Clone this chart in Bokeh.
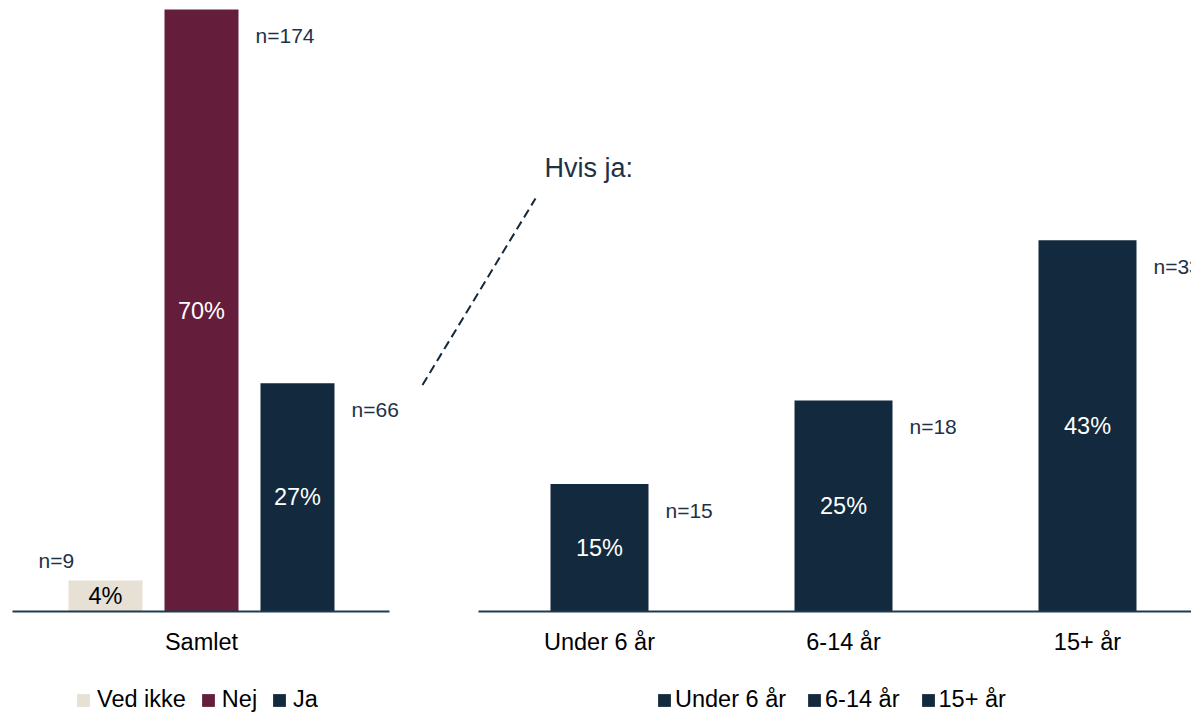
from bokeh.plotting import figure
from bokeh.models import ColumnDataSource, Range1d, FixedTicker, LinearAxis, Legend, LegendItem
from bokeh.layouts import row
from bokeh.embed import file_html
from bokeh.resources import INLINE
from bokeh.core.properties import value

# ---------------- data ----------------
left_category = "Samlet"
left_series = ["Ved ikke", "Nej", "Ja"]
left_values = [3.6, 69.9, 26.5]
left_n = [9, 174, 66]

right_title = "Hvis ja:"
right_categories = ["Under 6 år", "6-14 år", "15+ år"]
right_values = [14.8, 24.5, 43.1]
right_n = [15, 18, 33]

# ---------------- styles ----------------
FONT_NAME = "Liberation Sans"
FONT = value(FONT_NAME)
BEIGE, MAROON, NAVY = "#E6E0D5", "#641E3C", "#13293D"
LEFT_COLORS = [BEIGE, MAROON, NAVY]
TEXT_NAVY = "#1E3247"
AXIS_COLOR = "#1F3A52"
H = 712
Y_RANGE = (-11.73, 70.95)


def pct(v):
    return f"{int(v + 0.5)}%"


def make_fig(width, x0, x1):
    p = figure(width=width, height=H, x_range=Range1d(x0, x1), y_range=Range1d(*Y_RANGE),
               output_backend="svg", toolbar_location=None,
               x_axis_location=None, y_axis_location=None,
               min_border=0, min_border_left=0, min_border_right=0,
               min_border_top=0, min_border_bottom=0)
    p.outline_line_color = None
    p.background_fill_color = None
    p.border_fill_color = "white"
    for g in p.grid:
        g.visible = False
    return p


def add_axis(p, ticks, labels, bounds):
    ax = LinearAxis(ticker=FixedTicker(ticks=ticks),
                    major_label_overrides={t: l for t, l in zip(ticks, labels)},
                    fixed_location=0, bounds=bounds,
                    axis_line_color=AXIS_COLOR, axis_line_width=2,
                    major_tick_line_color=None, minor_tick_line_color=None,
                    major_label_text_font=FONT_NAME, major_label_text_font_size="23.5px",
                    major_label_text_color="black", major_label_standoff=12)
    p.add_layout(ax, "below")


# ---------------- left chart ----------------
LW = 0.771
p1 = make_fig(416, -1.09375, 3.2396)
lx = list(range(len(left_series)))
src1 = ColumnDataSource(dict(x=lx, top=left_values, color=LEFT_COLORS,
                             pct=[pct(v) for v in left_values],
                             pct_color=["black" if c == BEIGE else "white" for c in LEFT_COLORS],
                             mid=[v / 2 for v in left_values]))
r1 = p1.vbar(x="x", top="top", bottom=0, width=LW, fill_color="color", line_color=None, source=src1)
p1.text(x="x", y="mid", text="pct", text_color="pct_color", text_align="center",
        text_baseline="middle", text_font=FONT, text_font_size=value("23.5px"), source=src1)

big = [i for i, v in enumerate(left_values) if v >= 10]
small = [i for i, v in enumerate(left_values) if v < 10]
p1.text(x=[i + LW / 2 for i in big], y=[left_values[i] for i in big],
        text=[f"n={left_n[i]}" for i in big], x_offset=17, y_offset=26,
        text_align="left", text_baseline="middle", text_color=TEXT_NAVY,
        text_font=FONT, text_font_size=value("21px"))
p1.text(x=[i - LW / 2 for i in small], y=[left_values[i] for i in small],
        text=[f"n={left_n[i]}" for i in small], x_offset=-30, y_offset=-20,
        text_align="left", text_baseline="middle", text_color=TEXT_NAVY,
        text_font=FONT, text_font_size=value("21px"))
add_axis(p1, [1], [left_category], (-0.969, 2.958))

leg1 = Legend(items=[LegendItem(label=s, renderers=[r1], index=i) for i, s in enumerate(left_series)],
              orientation="horizontal", location=(75, -1), border_line_color=None,
              background_fill_alpha=0, padding=0, margin=0, spacing=14, label_standoff=6,
              glyph_width=16, glyph_height=16, label_text_font=FONT_NAME,
              label_text_font_size="23.5px", label_text_color="black")
p1.add_layout(leg1)

# ---------------- right chart ----------------
RW = 0.4016
p2 = make_fig(775, -0.75, 2.4262)
rx = list(range(len(right_categories)))
src2 = ColumnDataSource(dict(x=rx, top=right_values, cat=right_categories,
                             pct=[pct(v) for v in right_values],
                             mid=[v / 2 for v in right_values]))
r2 = p2.vbar(x="x", top="top", bottom=0, width=RW, fill_color=NAVY, line_color=None, source=src2)
p2.text(x="x", y="mid", text="pct", text_color="white", text_align="center",
        text_baseline="middle", text_font=FONT, text_font_size=value("23.5px"), source=src2)
p2.text(x=[i + RW / 2 for i in rx], y=right_values, text=[f"n={n}" for n in right_n],
        x_offset=17, y_offset=26, text_align="left", text_baseline="middle",
        text_color=TEXT_NAVY, text_font=FONT, text_font_size=value("21px"))
add_axis(p2, rx, right_categories, (-0.496, 2.43))

# connector from "Ja" bar to the breakdown
p2.line(x=[-0.7254, -0.2623], y=[left_values[2] - 0.2, 47.96], line_dash="9 5",
        line_width=2, line_color=NAVY)
p2.text(x=[-0.2254], y=[51.5], text=[right_title], text_align="left", text_baseline="middle",
        text_color=TEXT_NAVY, text_font=FONT, text_font_size=value("27px"))

leg2 = Legend(items=[LegendItem(label=c, renderers=[r2], index=i) for i, c in enumerate(right_categories)],
              orientation="horizontal", location=(240, -1), border_line_color=None,
              background_fill_alpha=0, padding=0, margin=0, spacing=20, label_standoff=3,
              glyph_width=16, glyph_height=16, label_text_font=FONT_NAME,
              label_text_font_size="23.5px", label_text_color="black")
p2.add_layout(leg2)

layout = row(p1, p2)
open("out.html", "w").write(file_html(layout, INLINE))
